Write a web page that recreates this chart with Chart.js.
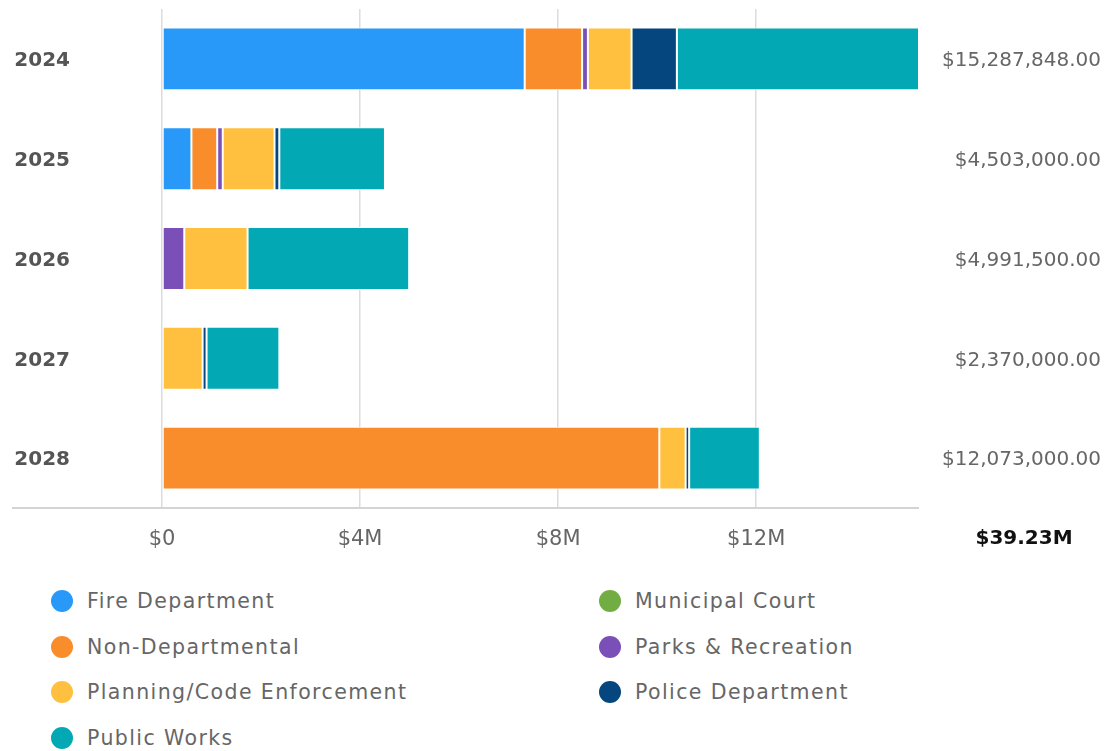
<!DOCTYPE html>
<html>
<head>
<meta charset="utf-8">
<script src="https://cdn.jsdelivr.net/npm/chart.js@4"></script>
<style>
  body { margin:0; background:#fff; font-family:"DejaVu Sans", sans-serif; }
  #wrap { position:relative; width:1105px; height:751px; }
  #chart-box { position:absolute; left:0; top:0; width:1105px; height:560px; }
  #legend { position:absolute; left:0; top:578px; width:1105px; margin:0; padding:0; list-style:none; }
  #legend li { position:absolute; height:46px; display:flex; align-items:center; font-size:20.5px; letter-spacing:1.4px; color:#666; white-space:nowrap; }
  #legend .dot { width:22px; height:22px; border-radius:50%; margin-right:14px; flex:none; }
</style>
</head>
<body>
<div id="wrap">
  <div id="chart-box"><canvas id="budget-chart" width="1105" height="560"></canvas></div>
  <ul id="legend"></ul>
</div>
<script>
const years = ['2024', '2025', '2026', '2027', '2028'];

// dollars per department, one value per year
const fireDept      = [7325000,  594000,       0,      0,        0];
const municipalCourt= [      0,       0,       0,      0,        0];
const nonDept       = [1159000,  521000,       0,      0, 10043000];
const parksRec      = [ 117000,  112000,  450000,      0,        0];
const planningCode  = [ 882000, 1045000, 1278000, 820000,   532000];
const policeDept    = [ 915000,   97000,       0,  80000,    71000];
const publicWorks   = [4889848, 2134000, 3263500, 1470000, 1427000];

const xTicks = [0, 4000000, 8000000, 12000000];

const departments = [
  { name:'Fire Department',           data:fireDept,       color:'#2899F8' },
  { name:'Municipal Court',           data:municipalCourt, color:'#72AD44' },
  { name:'Non-Departmental',          data:nonDept,        color:'#F98D2B' },
  { name:'Parks & Recreation',        data:parksRec,       color:'#7A50B8' },
  { name:'Planning/Code Enforcement', data:planningCode,   color:'#FEC03E' },
  { name:'Police Department',         data:policeDept,     color:'#05467F' },
  { name:'Public Works',              data:publicWorks,    color:'#02A9B4' }
];

const totals = years.map((y, i) => departments.reduce((s, d) => s + d.data[i], 0));
const grandTotal = totals.reduce((s, v) => s + v, 0);

const money = v => '$' + v.toLocaleString('en-US', { minimumFractionDigits:2, maximumFractionDigits:2 });
const shortM = v => v === 0 ? '$0' : '$' + (v / 1e6) + 'M';

const FONT = '"DejaVu Sans", sans-serif';

// axis baseline that runs under the year labels + grand total text
const extras = {
  id: 'extras',
  afterDraw(chart) {
    const { ctx, chartArea } = chart;
    ctx.save();
    ctx.strokeStyle = '#d4d4d4';
    ctx.lineWidth = 2;
    ctx.beginPath();
    ctx.moveTo(12, chartArea.bottom);
    ctx.lineTo(chartArea.right, chartArea.bottom);
    ctx.stroke();
    ctx.fillStyle = '#111';
    ctx.font = 'bold 20px ' + FONT;
    ctx.textAlign = 'center';
    ctx.textBaseline = 'middle';
    ctx.fillText('$' + (grandTotal / 1e6).toFixed(2) + 'M', 1024, 539);
    ctx.restore();
  }
};

new Chart(document.getElementById('budget-chart').getContext('2d'), {
  type: 'bar',
  data: {
    labels: years,
    datasets: departments.map(d => ({
      label: d.name, data: d.data,
      backgroundColor: d.color, borderColor: '#fff', borderWidth: 1, borderSkipped: false,
      barPercentage: 0.63, categoryPercentage: 1
    }))
  },
  options: {
    indexAxis: 'y',
    responsive: false,
    animation: false,
    layout: { padding: { top: 9, right: 4, left: 0, bottom: 0 } },
    plugins: { legend: { display:false }, tooltip: { enabled:false } },
    scales: {
      x: {
        stacked: true, min: 0, max: Math.max(...totals),
        afterBuildTicks: s => { s.ticks = xTicks.map(v => ({ value:v })); },
        afterFit: s => { s.height = 52; s.paddingLeft = 0; s.paddingRight = 0; },
        border: { display:false },
        grid: { color:'#dcdcdc', lineWidth:1.5, drawTicks:false },
        ticks: { padding:19, color:'#666', font:{ family:FONT, size:21 }, callback: v => shortM(v) }
      },
      y: {
        stacked: true,
        // big label padding would otherwise eat into the plot height
        afterFit: s => { s.width = 162; s.paddingTop = 0; s.paddingBottom = 0; },
        border: { display:false },
        grid: { display:false, drawTicks:false },
        ticks: { padding:92, labelOffset:2, color:'#555', font:{ family:FONT, size:20, weight:'bold' } }
      },
      y2: {
        type: 'category', labels: years, position: 'right', offset: true,
        afterFit: s => { s.width = 182; s.paddingTop = 0; s.paddingBottom = 0; },
        border: { display:false },
        grid: { display:false, drawTicks:false },
        ticks: { crossAlign:'far', labelOffset:2, color:'#666', font:{ family:FONT, size:20 }, callback: (v, i) => money(totals[i]) }
      }
    }
  },
  plugins: [extras]
});

// two column legend, row by row
document.getElementById('legend').innerHTML = departments.map((d, i) => `
  <li style="left:${i % 2 ? 599 : 51}px;top:${Math.floor(i / 2) * 45.7}px">
    <span class="dot" style="background:${d.color}"></span>${d.name}
  </li>`).join('');
</script>
</body>
</html>
